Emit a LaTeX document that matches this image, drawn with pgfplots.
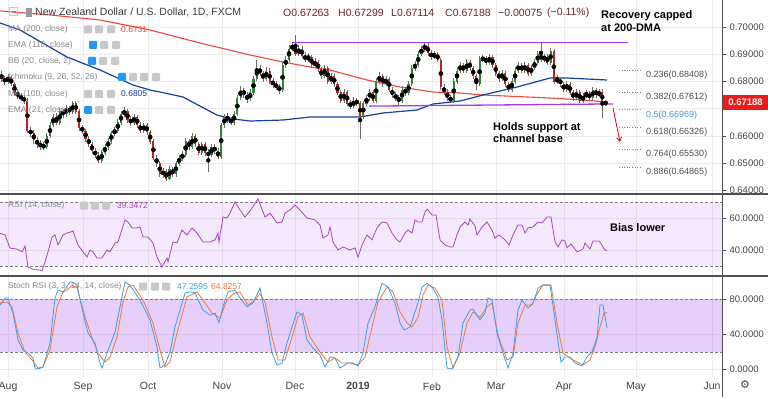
\documentclass[border=0pt]{standalone}
\usepackage{pgfplots}
\pgfplotsset{compat=1.18}
\usepackage{pgfplotstable}
\usetikzlibrary{arrows.meta}
\usepackage{fontspec}
\setmainfont{Liberation Sans}
\setsansfont{Liberation Sans}
\newfontfamily\dejavu{DejaVu Sans}
\definecolor{gridc}{RGB}{236,236,236}
\definecolor{upc}{RGB}{50,130,55}
\definecolor{dnc}{RGB}{190,35,35}
\definecolor{wickc}{RGB}{110,110,110}
\definecolor{ma200}{RGB}{242,70,60}
\definecolor{ma100}{RGB}{20,65,165}
\definecolor{chan}{RGB}{165,55,245}
\definecolor{rsic}{RGB}{171,71,188}
\definecolor{bandc}{RGB}{150,40,240}
\definecolor{stk}{RGB}{55,160,245}
\definecolor{std}{RGB}{245,120,45}
\definecolor{axc}{RGB}{80,80,80}
\definecolor{labc}{RGB}{70,70,70}
\definecolor{ohlc}{RGB}{115,35,35}
\definecolor{legc}{RGB}{140,140,140}
\definecolor{iconc}{RGB}{200,200,200}
\definecolor{iconb}{RGB}{40,150,243}
\definecolor{fibc}{RGB}{80,80,80}
\definecolor{fibb}{RGB}{80,150,235}
\definecolor{pricebox}{RGB}{240,25,25}

\pgfplotstableread{
i o h l c
-2 0.6825 0.6838 0.6800 0.6810
-1 0.6810 0.6822 0.6788 0.6800
0 0.6800 0.6828 0.6792 0.6815
1 0.6815 0.6822 0.6782 0.6790
2 0.6790 0.6798 0.6748 0.6760
3 0.6760 0.6772 0.6735 0.6745
4 0.6745 0.6758 0.6728 0.6740
5 0.6740 0.6752 0.6718 0.6730
6 0.6730 0.6738 0.6612 0.6620
7 0.6620 0.6635 0.6595 0.6610
8 0.6610 0.6622 0.6572 0.6585
9 0.6585 0.6598 0.6558 0.6570
10 0.6570 0.6585 0.6550 0.6565
11 0.6565 0.6578 0.6548 0.6560
12 0.6560 0.6612 0.6552 0.6600
13 0.6600 0.6650 0.6592 0.6640
14 0.6640 0.6682 0.6632 0.6670
15 0.6670 0.6685 0.6640 0.6650
16 0.6650 0.6702 0.6642 0.6690
17 0.6690 0.6700 0.6668 0.6680
18 0.6680 0.6715 0.6672 0.6700
19 0.6700 0.6712 0.6678 0.6690
20 0.6690 0.6728 0.6682 0.6720
21 0.6720 0.6730 0.6680 0.6690
22 0.6690 0.6698 0.6620 0.6630
23 0.6630 0.6642 0.6608 0.6620
24 0.6620 0.6628 0.6580 0.6590
25 0.6590 0.6602 0.6560 0.6570
26 0.6570 0.6580 0.6535 0.6545
27 0.6545 0.6558 0.6518 0.6530
28 0.6530 0.6540 0.6500 0.6510
29 0.6510 0.6550 0.6502 0.6540
30 0.6540 0.6572 0.6532 0.6560
31 0.6560 0.6592 0.6550 0.6580
32 0.6580 0.6620 0.6572 0.6610
33 0.6610 0.6635 0.6600 0.6620
34 0.6620 0.6662 0.6612 0.6650
35 0.6650 0.6692 0.6642 0.6680
36 0.6680 0.6705 0.6670 0.6690
37 0.6690 0.6698 0.6650 0.6660
38 0.6660 0.6672 0.6638 0.6650
39 0.6650 0.6682 0.6642 0.6670
40 0.6670 0.6678 0.6630 0.6640
41 0.6640 0.6652 0.6610 0.6620
42 0.6620 0.6650 0.6612 0.6640
43 0.6640 0.6648 0.6605 0.6615
44 0.6615 0.6622 0.6570 0.6580
45 0.6580 0.6588 0.6512 0.6520
46 0.6520 0.6532 0.6488 0.6500
47 0.6500 0.6510 0.6450 0.6460
48 0.6460 0.6482 0.6448 0.6470
49 0.6470 0.6478 0.6435 0.6445
50 0.6445 0.6490 0.6438 0.6480
51 0.6480 0.6488 0.6450 0.6460
52 0.6460 0.6510 0.6452 0.6500
53 0.6500 0.6532 0.6492 0.6520
54 0.6520 0.6545 0.6510 0.6530
55 0.6530 0.6595 0.6522 0.6580
56 0.6580 0.6590 0.6550 0.6560
57 0.6560 0.6610 0.6552 0.6600
58 0.6600 0.6608 0.6560 0.6570
59 0.6570 0.6578 0.6530 0.6540
60 0.6540 0.6580 0.6532 0.6570
61 0.6570 0.6578 0.6528 0.6540
62 0.6540 0.6552 0.6470 0.6530
63 0.6530 0.6572 0.6522 0.6560
64 0.6560 0.6570 0.6535 0.6545
65 0.6545 0.6555 0.6515 0.6525
66 0.6525 0.6650 0.6518 0.6640
67 0.6640 0.6680 0.6630 0.6670
68 0.6670 0.6685 0.6648 0.6660
69 0.6660 0.6672 0.6640 0.6650
70 0.6650 0.6692 0.6642 0.6680
71 0.6680 0.6750 0.6672 0.6740
72 0.6740 0.6785 0.6732 0.6770
73 0.6770 0.6778 0.6740 0.6750
74 0.6750 0.6760 0.6722 0.6735
75 0.6735 0.6772 0.6728 0.6760
76 0.6760 0.6820 0.6752 0.6810
77 0.6810 0.6880 0.6802 0.6850
78 0.6850 0.6860 0.6820 0.6830
79 0.6830 0.6840 0.6800 0.6810
80 0.6810 0.6852 0.6802 0.6840
81 0.6840 0.6848 0.6790 0.6800
82 0.6800 0.6812 0.6778 0.6790
83 0.6790 0.6802 0.6768 0.6780
84 0.6780 0.6792 0.6755 0.6770
85 0.6770 0.6870 0.6762 0.6860
86 0.6860 0.6892 0.6850 0.6880
87 0.6880 0.6935 0.6872 0.6920
88 0.6920 0.6942 0.6912 0.6930
89 0.6930 0.6970 0.6892 0.6900
90 0.6900 0.6935 0.6892 0.6920
91 0.6920 0.6930 0.6885 0.6895
92 0.6895 0.6908 0.6870 0.6880
93 0.6880 0.6905 0.6872 0.6890
94 0.6890 0.6898 0.6850 0.6860
95 0.6860 0.6885 0.6850 0.6870
96 0.6870 0.6880 0.6835 0.6845
97 0.6845 0.6855 0.6810 0.6820
98 0.6820 0.6862 0.6812 0.6850
99 0.6850 0.6858 0.6790 0.6800
100 0.6800 0.6832 0.6792 0.6820
101 0.6820 0.6828 0.6780 0.6790
102 0.6790 0.6798 0.6750 0.6760
103 0.6760 0.6770 0.6720 0.6730
104 0.6730 0.6772 0.6722 0.6760
105 0.6760 0.6768 0.6710 0.6720
106 0.6720 0.6732 0.6700 0.6710
107 0.6710 0.6742 0.6702 0.6730
108 0.6730 0.6740 0.6710 0.6720
109 0.6720 0.6728 0.6590 0.6670
110 0.6670 0.6730 0.6662 0.6720
111 0.6720 0.6752 0.6712 0.6740
112 0.6740 0.6772 0.6730 0.6760
113 0.6760 0.6768 0.6720 0.6730
114 0.6730 0.6812 0.6722 0.6800
115 0.6800 0.6835 0.6790 0.6820
116 0.6820 0.6828 0.6780 0.6790
117 0.6790 0.6822 0.6782 0.6810
118 0.6810 0.6818 0.6760 0.6770
119 0.6770 0.6780 0.6740 0.6750
120 0.6750 0.6762 0.6728 0.6740
121 0.6740 0.6752 0.6715 0.6730
122 0.6730 0.6782 0.6722 0.6770
123 0.6770 0.6780 0.6748 0.6760
124 0.6760 0.6802 0.6752 0.6790
125 0.6790 0.6862 0.6782 0.6850
126 0.6850 0.6875 0.6840 0.6860
127 0.6860 0.6912 0.6852 0.6900
128 0.6900 0.6932 0.6892 0.6920
129 0.6920 0.6945 0.6910 0.6930
130 0.6930 0.6942 0.6895 0.6905
131 0.6905 0.6915 0.6880 0.6890
132 0.6890 0.6912 0.6882 0.6900
133 0.6900 0.6910 0.6870 0.6880
134 0.6880 0.6888 0.6770 0.6780
135 0.6780 0.6790 0.6750 0.6760
136 0.6760 0.6772 0.6730 0.6740
137 0.6740 0.6752 0.6720 0.6730
138 0.6730 0.6812 0.6722 0.6800
139 0.6800 0.6852 0.6792 0.6840
140 0.6840 0.6872 0.6830 0.6860
141 0.6860 0.6868 0.6830 0.6840
142 0.6840 0.6882 0.6832 0.6870
143 0.6870 0.6880 0.6840 0.6850
144 0.6850 0.6858 0.6810 0.6820
145 0.6820 0.6828 0.6770 0.6790
146 0.6790 0.6892 0.6782 0.6880
147 0.6880 0.6898 0.6870 0.6885
148 0.6885 0.6895 0.6860 0.6870
149 0.6870 0.6902 0.6862 0.6890
150 0.6890 0.6898 0.6850 0.6860
151 0.6860 0.6868 0.6820 0.6830
152 0.6830 0.6840 0.6800 0.6810
153 0.6810 0.6842 0.6802 0.6830
154 0.6830 0.6838 0.6780 0.6790
155 0.6790 0.6800 0.6760 0.6770
156 0.6770 0.6812 0.6762 0.6800
157 0.6800 0.6852 0.6792 0.6840
158 0.6840 0.6872 0.6830 0.6860
159 0.6860 0.6868 0.6830 0.6840
160 0.6840 0.6872 0.6832 0.6860
161 0.6860 0.6868 0.6820 0.6830
162 0.6830 0.6862 0.6822 0.6850
163 0.6850 0.6882 0.6842 0.6870
164 0.6870 0.6912 0.6862 0.6900
165 0.6900 0.6940 0.6870 0.6880
166 0.6880 0.6902 0.6872 0.6890
167 0.6890 0.6900 0.6860 0.6870
168 0.6870 0.6922 0.6862 0.6910
169 0.6910 0.6918 0.6790 0.6800
170 0.6800 0.6825 0.6792 0.6810
171 0.6810 0.6818 0.6780 0.6790
172 0.6790 0.6800 0.6760 0.6770
173 0.6770 0.6802 0.6762 0.6790
174 0.6790 0.6798 0.6750 0.6760
175 0.6760 0.6770 0.6730 0.6740
176 0.6740 0.6772 0.6732 0.6760
177 0.6760 0.6768 0.6722 0.6730
178 0.6730 0.6758 0.6722 0.6745
179 0.6745 0.6770 0.6738 0.6755
180 0.6755 0.6765 0.6730 0.6740
181 0.6740 0.6780 0.6732 0.6770
182 0.6770 0.6778 0.6740 0.6750
183 0.6750 0.6772 0.6742 0.6760
184 0.6760 0.6772 0.6667 0.67263
185 0.67263 0.67299 0.67114 0.67188
}\candles

\pgfplotsset{
  panel/.style={
    scale only axis, width=722pt, xmin=0, xmax=722, anchor=south west,
    axis line style={draw=none},
    xtick={8,83,148,222,295,358,432,496,564,636,712},
    xmajorgrids, ymajorgrids,
    major grid style={draw=gridc, line width=0.7pt},
    xtick style={draw=none},
    ytick style={draw=axc, line width=0.6pt},
    tick align=outside, major tick length=4pt,
    ytick pos=right, yticklabel pos=right,
    yticklabel style={font=\fontsize{9.5}{10}\selectfont, text=labc, /pgf/number format/assume math mode=true},
    scaled y ticks=false,
  }
}
\newcommand{\ic}[3]{\node[fill=#3, minimum size=8pt, inner sep=0pt, rounded corners=1pt] at (#1pt,#2pt) {};}

\begin{document}
\begin{tikzpicture}
\useasboundingbox (0pt,0pt) rectangle (768pt,397pt);
\fill[white] (0pt,0pt) rectangle (768pt,397pt);

% ---------------- price panel ----------------
\begin{axis}[panel, at={(0pt,203pt)}, height=194pt,
  ymin=0.638783, ymax=0.709897,
  ytick={0.64,0.65,0.66,0.67,0.68,0.69,0.70}, xticklabels={},
  yticklabels={0.64000,0.65000,0.66000,,0.68000,0.69000,0.70000}]
% 200-day MA
\addplot[ma200, line width=1.1pt, mark=none] coordinates {
(0,0.70587) (50,0.7044) (100,0.70257) (150,0.6989) (200,0.69413) (250,0.68974)
(283,0.68717) (310,0.68534) (330,0.68424) (367,0.68057) (400,0.67801) (433,0.67617)
(460,0.6758) (483,0.67507) (550,0.67397) (583,0.67324) (607,0.6725)};
% 100-day MA
\addplot[ma100, line width=1.2pt, mark=none] coordinates {
(0,0.70147) (20,0.6989) (67,0.6890) (100,0.68424) (133,0.67874) (150,0.6769) (160,0.67617)
(183,0.67434) (217,0.6677) (233,0.66628) (250,0.66554) (283,0.6659) (310,0.667)
(333,0.667) (360,0.667) (383,0.66848) (417,0.66957) (433,0.67177) (460,0.67287)
(483,0.67507) (517,0.678) (550,0.6813) (567,0.6813) (607,0.68057)};
% wicks
\addplot[only marks, mark=none, forget plot,
  error bars/.cd, y dir=both, y explicit, error mark=none,
  error bar style={draw=wickc, line width=0.7pt}]
  table[x expr={8+3.23*\thisrow{i}}, y expr={(\thisrow{h}+\thisrow{l})/2},
        y error expr={(\thisrow{h}-\thisrow{l})/2}] {\candles};
% up bodies
\addplot[only marks, mark=none, forget plot,
  restrict expr to domain={\thisrow{c}-\thisrow{o}}{0:1},
  error bars/.cd, y dir=both, y explicit, error mark=none,
  error bar style={draw=upc, line width=2.1pt, line cap=butt}]
  table[x expr={8+3.23*\thisrow{i}}, y expr={(\thisrow{o}+\thisrow{c})/2},
        y error expr={abs(\thisrow{c}-\thisrow{o})/2+0.00005}] {\candles};
% down bodies
\addplot[only marks, mark=none, forget plot,
  restrict expr to domain={\thisrow{c}-\thisrow{o}}{-1:0},
  error bars/.cd, y dir=both, y explicit, error mark=none,
  error bar style={draw=dnc, line width=2.1pt, line cap=butt}]
  table[x expr={8+3.23*\thisrow{i}}, y expr={(\thisrow{o}+\thisrow{c})/2},
        y error expr={abs(\thisrow{c}-\thisrow{o})/2+0.00005}] {\candles};
% channel
\addplot[chan, line width=1.3pt, mark=none] coordinates {(292,0.6942) (628,0.6942)};
\addplot[chan, line width=1.3pt, mark=none] coordinates {(369,0.6710) (613,0.6718)};
% fib levels
\addplot[gray, dotted, line width=0.6pt] coordinates {(619,0.68408) (642,0.68408)};
\addplot[gray, dotted, line width=0.6pt] coordinates {(619,0.67612) (642,0.67612)};
\addplot[fibb, dotted, line width=0.6pt] coordinates {(619,0.66969) (642,0.66969)};
\addplot[gray, dotted, line width=0.6pt] coordinates {(619,0.66326) (642,0.66326)};
\addplot[gray, dotted, line width=0.6pt] coordinates {(619,0.65530) (642,0.65530)};
\addplot[gray, dotted, line width=0.6pt] coordinates {(619,0.64865) (642,0.64865)};
% red arrow
\addplot[red!90!black, line width=0.8pt, -{Straight Barb[length=4pt,width=5pt]}] coordinates {(613,0.67031) (620,0.65784)};
\end{axis}

% ---------------- RSI panel ----------------
\begin{axis}[panel, at={(0pt,121pt)}, height=82pt,
  ymin=23.75, ymax=75, ytick={40,60}, xticklabels={},
  yticklabel style={/pgf/number format/.cd, fixed, fixed zerofill, precision=4}]
\addplot[draw=none, fill=bandc, fill opacity=0.1] coordinates {(0,30) (0,70) (722,70) (722,30)} -- cycle;
\addplot[gray, dash pattern=on 3pt off 2pt, line width=0.5pt] coordinates {(0,70) (722,70)};
\addplot[gray, dash pattern=on 3pt off 2pt, line width=0.5pt] coordinates {(0,30) (722,30)};
\addplot[rsic, line width=0.8pt, mark=none] coordinates {
(0,50.4) (5,49.4) (10,41.2) (17,40.6) (22,38.8) (25,42.5) (28,29.4) (33,28) (40,27.5) (42,26.9)
(45,32.5) (48,38.8) (52,48.1) (55,49.4) (58,43.1) (63,49.4) (67,50.6) (72,51.5) (73,51.9)
(78,43.1) (83,38.8) (87,35.6) (90,40) (93,38.8) (97,35) (102,35) (107,40) (110,38.8)
(115,44.4) (118,45) (125,58.8) (128,57.5) (132,53.8) (137,53.8) (140,54.4) (143,48.1)
(148,48.1) (153,44.4) (157,35.6) (162,29.4) (167,35) (168,32.5) (173,45) (177,44.4)
(182,52.5) (187,49.4) (192,53.8) (197,50.6) (203,45) (210,45) (215,46.3) (218,50.6)
(219,45) (223,60.6) (227,60) (230,63.1) (235,70) (240,65) (245,60.6) (250,64.4)
(258,71.9) (265,60.6) (270,63.1) (277,56.9) (282,57.5) (285,63.1) (290,65) (295,68.1)
(300,65) (307,60) (315,58.8) (320,55.6) (323,47.5) (328,49.4) (330,54.4) (333,45)
(338,40) (343,41.9) (350,40) (355,41.3) (358,35.6) (362,43.1) (367,49.4) (372,46.3)
(377,53.8) (382,57.5) (387,56.9) (392,50.6) (397,46.3) (400,45) (405,50.6) (408,52.5)
(412,50.6) (415,58.8) (418,57.5) (422,57.5) (425,63.8) (427,65.6) (432,61.9) (436,61.9)
(440,46.3) (445,43.1) (450,41.9) (453,41.9) (457,49.4) (460,54.4) (465,57.5) (468,55.6)
(470,59.4) (475,55) (477,49.4) (482,54.4) (487,57.5) (492,52.5) (495,47.5) (499,49.4)
(505,46.3) (509,43.1) (513,49.4) (518,55.6) (522,55.6) (525,50.6) (528,53.8) (533,54.4)
(538,57.5) (542,56.9) (547,60.6) (551,60.6) (555,45) (558,41.9) (562,46.3) (565,45.6)
(567,41.3) (571,43.8) (577,38.8) (583,40.6) (585,44.4) (590,40.6) (593,45.6) (599,45.6)
(602,43.1) (604,40.6) (607,39.35)};
\end{axis}

% ---------------- Stoch RSI panel ----------------
\begin{axis}[panel, at={(0pt,20pt)}, height=101pt,
  ymin=-8.8, ymax=106.6, ytick={0,40,80},
  xticklabels={Aug,Sep,Oct,Nov,Dec,\textbf{2019},Feb,Mar,Apr,May,Jun},
  xticklabel style={font=\fontsize{10.5}{11}\selectfont, text=labc, yshift=2pt},
  yticklabel style={/pgf/number format/.cd, fixed, fixed zerofill, precision=4}]
\addplot[draw=none, fill=bandc, fill opacity=0.22] coordinates {(0,20) (0,80) (722,80) (722,20)} -- cycle;
\addplot[gray, dash pattern=on 3pt off 2pt, line width=0.5pt] coordinates {(0,80) (722,80)};
\addplot[gray, dash pattern=on 3pt off 2pt, line width=0.5pt] coordinates {(0,20) (722,20)};
% %D
\addplot[std, line width=0.8pt, mark=none] coordinates {
(0,75.8) (7,76.9) (12,71.3) (18,41.4) (25,19.8) (32,10.6) (38,1.5) (43,2.6) (50,22)
(57,71.3) (63,88.4) (67,90.5) (72,96.2) (77,92.8) (85,60) (92,36) (98,18.6) (105,8.3)
(110,14) (117,36.9) (123,76.9) (128,94) (133,96.2) (143,79.1) (153,52.9) (160,22)
(165,2.6) (170,8.3) (177,41.4) (187,82.6) (197,88.4) (205,75.8) (212,64.3) (220,58.6)
(227,79.1) (233,86.1) (240,88.4) (248,73.4) (253,76.9) (260,86.1) (265,76.9) (272,36.9)
(278,10.6) (285,10.6) (292,36.9) (298,60) (303,64.3) (310,36.9) (320,19.8) (328,8.3)
(335,12.9) (342,7.2) (350,7.2) (358,5) (365,14) (372,48.3) (378,76.9) (387,94) (393,88.4)
(400,65.5) (407,52.9) (412,48.3) (418,59.4) (423,84.9) (428,96.2) (435,92.8) (442,79.1)
(447,25.5) (453,1.5) (460,18.6) (467,52.9) (473,65.5) (480,59.4) (487,71.3) (492,75.8)
(498,39.2) (507,10.6) (513,14) (518,52.9) (525,73.4) (532,73.4) (537,86.1) (543,96.2)
(551,96.2) (557,52.9) (563,18.6) (570,12.9) (577,8.3) (583,5) (590,10.6) (595,25.5)
(600,48.3) (604,64.3) (607,64.83)};
% %K
\addplot[stk, line width=0.8pt, mark=none] coordinates {
(0,73.4) (5,81.4) (8,81.4) (13,64.3) (18,33.5) (23,22) (28,18.6) (33,12.9) (35,1.5)
(38,0.3) (43,2.6) (50,30) (55,81.4) (58,90.5) (63,88.4) (70,99.7) (73,99.7) (77,96.2)
(83,64.3) (88,41.4) (95,30) (100,7.2) (102,1.5) (107,18.6) (115,42.6) (122,82.6)
(125,99.7) (130,96.2) (140,79.1) (150,56.3) (157,25.5) (160,1.5) (165,5) (170,19.8)
(175,48.3) (185,87.2) (190,88.4) (195,87.2) (203,67.7) (210,62) (215,64.3) (219,52.9)
(223,71.3) (228,88.4) (235,90.5) (240,81.4) (247,71.3) (253,75.8) (260,92.8) (267,52.9)
(272,18.6) (277,5) (282,7.2) (287,30) (292,48.3) (297,65.5) (302,62) (307,33.5)
(313,24.3) (320,16.3) (325,2.6) (330,14) (335,12.9) (340,1.5) (348,7.2) (353,7.2)
(358,3.8) (363,18.6) (368,52.9) (375,71.3) (382,98.5) (388,94) (395,75.8) (400,52.9)
(404,44.9) (410,48.3) (415,65.5) (418,75.8) (422,94) (427,98.5) (432,94) (438,82.6)
(442,56.3) (447,1.5) (452,0.3) (458,14) (463,52.9) (470,67.7) (473,68.8) (480,56.3)
(485,64.3) (488,81.4) (492,79.1) (497,41.4) (503,18.6) (508,1.5) (513,18.6) (518,67.7)
(522,79.1) (528,69.9) (533,75.8) (538,92.8) (543,96.2) (550,96.2) (555,56.3) (561,8.3)
(565,14) (570,14) (575,7.2) (582,3.8) (587,14) (592,19.8) (597,36.9) (600,73.4)
(603,73.4) (607,47.26)};
\end{axis}

% ---------------- frame lines ----------------
\draw[axc, line width=1.1pt] (0pt,203pt) -- (768pt,203pt);
\draw[axc, line width=1.1pt] (0pt,121pt) -- (768pt,121pt);
\draw[axc, line width=1pt] (722pt,0pt) -- (722pt,397pt);

% ---------------- price box ----------------
\fill[pricebox] (723pt,287pt) rectangle (768pt,302pt);
\node[text=white, font=\bfseries\fontsize{9.5}{10}\selectfont, inner sep=0pt] at (745.5pt,294.5pt) {0.67188};

% ---------------- header ----------------
\draw[iconc, line width=0.7pt] (9.5pt,381.5pt) rectangle (17.5pt,389.5pt);
\draw[gray, line width=0.7pt] (11.5pt,385.5pt) -- (15.5pt,385.5pt);
\fill[gray!80] (26pt,380pt) rectangle (32pt,389pt);
\node[anchor=west, inner sep=0pt, text={rgb,255:red,60;green,60;blue,60}, font=\fontsize{10.5}{11}\selectfont] at (35pt,384.5pt) {New Zealand Dollar / U.S. Dollar, 1D, FXCM};
\begin{scope}[every node/.style={anchor=west, inner sep=0pt, text=ohlc, font=\fontsize{10.5}{11}\selectfont}]
\node at (283pt,384pt) {O0.67263};
\node at (338pt,384pt) {H0.67299};
\node at (391pt,384pt) {L0.67114};
\node at (445pt,384pt) {C0.67188};
\node at (498pt,384pt) {−0.00075};
\node at (547pt,384pt) {(−0.11\%)};
\end{scope}

% ---------------- indicator legends ----------------
\begin{scope}[every node/.style={anchor=west, inner sep=0pt, font=\fontsize{8.5}{10}\selectfont}]
\node[text=legc] at (8pt,367.5pt) {MA (200, close)};
\node[text=legc] at (8pt,352pt) {EMA (110, close)};
\node[text=legc] at (8pt,336pt) {BB (20, close, 2)};
\node[text=legc] at (8pt,320pt) {Ichimoku (9, 26, 52, 26)};
\node[text=legc] at (8pt,303pt) {MA (100, close)};
\node[text=legc] at (8pt,287pt) {EMA (21, close)};
\node[text=ma200] at (121pt,367.5pt) {0.6731};
\node[text=ma100] at (121pt,303pt) {0.6805};
\node[text=legc] at (8pt,191.5pt) {RSI (14, close)};
\node[text=rsic] at (117pt,191.5pt) {39.3472};
\node[text=legc] at (8pt,110.5pt) {Stoch RSI (3, 3, 14, 14, close)};
\node[text=stk] at (177pt,110.5pt) {47.2595};
\node[text=std] at (211pt,110.5pt) {64.8257};
\end{scope}
\ic{88}{367.5}{iconc}\ic{99}{367.5}{iconc}\ic{111}{367.5}{iconc}
\ic{93}{352}{iconb}\ic{104}{352}{iconc}\ic{116}{352}{iconc}
\ic{92}{336}{iconb}\ic{103}{336}{iconc}\ic{115}{336}{iconc}
\ic{122}{320}{iconb}\ic{133}{320}{iconc}\ic{144}{320}{iconc}\ic{156}{320}{iconc}
\ic{88}{303}{iconc}\ic{99}{303}{iconc}\ic{111}{303}{iconc}
\ic{88}{287}{iconb}\ic{99}{287}{iconc}\ic{111}{287}{iconc}
\ic{84}{191.5}{iconc}\ic{95}{191.5}{iconc}\ic{106}{191.5}{iconc}
\ic{143}{110.5}{iconc}\ic{155}{110.5}{iconc}\ic{166}{110.5}{iconc}

% ---------------- annotations ----------------
\begin{scope}[every node/.style={anchor=west, inner sep=0pt, font=\bfseries\fontsize{11}{12}\selectfont}]
\node at (601pt,381pt) {Recovery capped};
\node at (601pt,369.5pt) {at 200-DMA};
\node at (493pt,269pt) {Holds support at};
\node at (493pt,258pt) {channel base};
\node at (610pt,169pt) {Bias lower};
\end{scope}
\begin{scope}[every node/.style={anchor=west, inner sep=0pt, font=\fontsize{9}{10}\selectfont, text=fibc}]
\node at (646pt,322pt) {0.236(0.68408)};
\node at (646pt,299.7pt) {0.382(0.67612)};
\node[text=fibb] at (646pt,282pt) {0.5(0.66969)};
\node at (646pt,264.7pt) {0.618(0.66326)};
\node at (646pt,243pt) {0.764(0.65530)};
\node at (646pt,224.7pt) {0.886(0.64865)};
\end{scope}
\node[font=\dejavu\fontsize{11}{12}\selectfont, text=labc] at (745pt,12pt) {⚙};
\end{tikzpicture}
\end{document}
